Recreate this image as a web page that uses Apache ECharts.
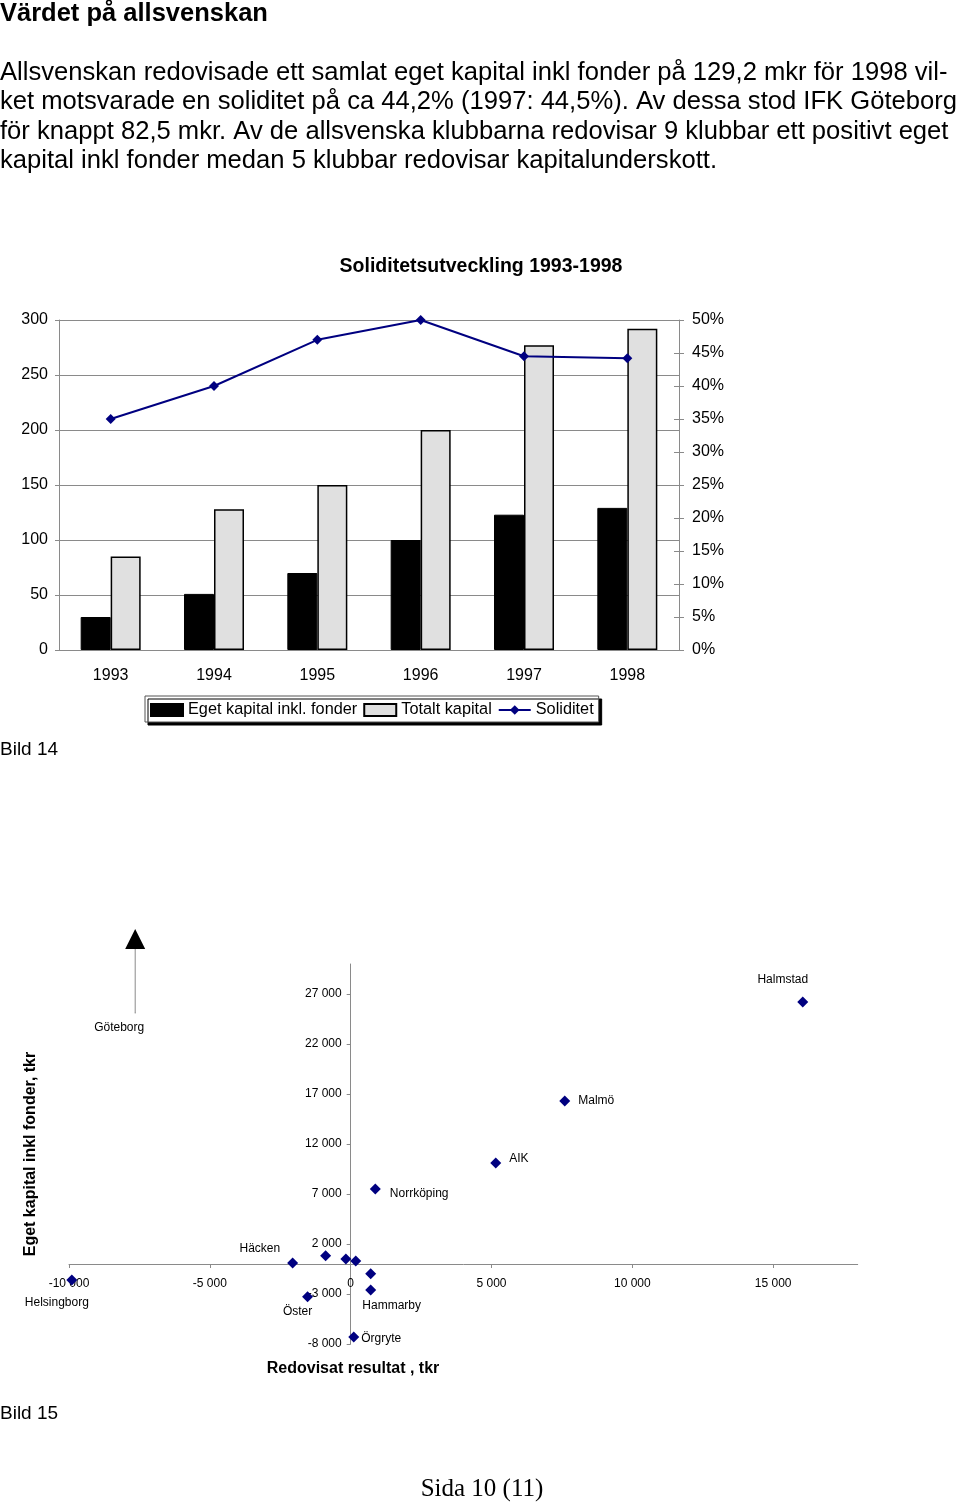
<!DOCTYPE html>
<html><head><meta charset="utf-8">
<script src="https://cdn.jsdelivr.net/npm/echarts@6/dist/echarts.min.js"></script>
<style>html,body{margin:0;padding:0;background:#fff}#c{width:960px;height:1503px}</style>
</head><body><div id="c"></div>
<script>
// ---------- Data: chart 1 (Bild 14) ----------
const years = ['1993', '1994', '1995', '1996', '1997', '1998'];
const egetKapital = [30, 51, 70, 100, 123, 129.2];
const totaltKapital = [85, 128, 150, 200, 277, 292];
const soliditet = [35, 40, 47, 50, 44.5, 44.2];

// ---------- Data: chart 2 (Bild 15) ----------
const clubs = ['Halmstad', 'Malmö', 'AIK', 'Norrköping', 'Häcken', '', '', '', '', 'Hammarby', 'Öster', 'Örgryte', 'Helsingborg'];
const resultat = [16050, 7600, 5150, 875, -2060, -890, -170, 180, 710, 710, -1530, 110, -9900];
const egetKapitalKlubb = [26200, 16300, 10100, 7500, 100, 830, 500, 300, -970, -2600, -3270, -7300, -1600];
const goteborgName = 'Göteborg';
const goteborgResultat = -7650;
const goteborgEgetKapital = 82500; // off scale, shown with an arrow

const xTicks = [-10000, -5000, 0, 5000, 10000, 15000];
const yTicks = [-8000, -3000, 2000, 7000, 12000, 17000, 22000, 27000];

// ---------- Texts ----------
const pageTitle = 'Värdet på allsvenskan';
const paragraph = [
  'Allsvenskan redovisade ett samlat eget kapital inkl fonder på 129,2 mkr för 1998 vil-',
  'ket motsvarade en soliditet på ca 44,2% (1997: 44,5%). Av dessa stod IFK Göteborg',
  'för knappt 82,5 mkr. Av de allsvenska klubbarna redovisar 9 klubbar ett positivt eget',
  'kapital inkl fonder medan 5 klubbar redovisar kapitalunderskott.'
];

// ---------- Styles / layout ----------
const FONT = '"Liberation Sans", Arial, Helvetica, sans-serif';
const NAVY = '#000080';
const AXIS = '#8a8a8a';
const X2 = { min: -10000, max: 18000 };
const Y2 = { min: -8000, max: 30000 };
const grid2 = { left: 69, top: 964, width: 788.7, height: 380 };
// place the scatter axes where the other axis is zero (crossing axes)
const xAxisOffset = -((0 - Y2.min) / (Y2.max - Y2.min)) * grid2.height;
const yAxisOffset = -((0 - X2.min) / (X2.max - X2.min)) * grid2.width;

const labelStyle = {
  'Halmstad':    { position: 'top', distance: 11, offset: [-20, 0] },
  'Malmö':       { position: 'right', distance: 8, offset: [0, 0] },
  'AIK':         { position: 'right', distance: 8, offset: [0, -4] },
  'Norrköping':  { position: 'right', distance: 9, offset: [0, 5] },
  'Häcken':      { position: 'left', distance: 7, offset: [0, -14] },
  'Hammarby':    { position: 'bottom', distance: 4, offset: [21, 0] },
  'Öster':       { position: 'bottom', distance: 3, offset: [-10, 0] },
  'Örgryte':     { position: 'right', distance: 2, offset: [0, 2] },
  'Helsingborg': { position: 'bottom', distance: 11, offset: [-15, 0] }
};
const arrowBase = 25100, arrowHead = 32500;

function fmtNum(v) {
  const s = Math.abs(v).toString().replace(/\B(?=(\d{3})+(?!\d))/g, ' ');
  return (v < 0 ? '-' : '') + s;
}

const scatterData = clubs.map((n, i) => {
  const item = { name: n, value: [resultat[i], egetKapitalKlubb[i]] };
  if (n && labelStyle[n]) {
    item.label = Object.assign({ show: true, formatter: '{b}' }, labelStyle[n]);
  }
  return item;
});

const chart = echarts.init(document.getElementById('c'), null, { renderer: 'canvas' });

const texts = [
  { x: 0, y: 14, text: pageTitle, fontSize: 25.5, fontWeight: 'bold' },
  { x: 481, y: 267, text: 'Soliditetsutveckling 1993-1998', fontSize: 19.5, fontWeight: 'bold', align: 'center' },
  { x: 0, y: 750, text: 'Bild 14', fontSize: 19 },
  { x: 0, y: 1414, text: 'Bild 15', fontSize: 19 },
  { x: 353, y: 1369, text: 'Redovisat resultat , tkr', fontSize: 16, fontWeight: 'bold', align: 'center' },
  { x: 482, y: 1489, text: 'Sida 10 (11)', fontSize: 25, family: '"Liberation Serif", "Times New Roman", serif', align: 'center' }
];
paragraph.forEach((t, i) => texts.push({ x: 0, y: 73 + i * 29.4, text: t, fontSize: 25.6 }));

const graphic = texts.map(t => ({
  type: 'text', x: t.x, y: t.y, silent: true,
  style: {
    text: t.text, fontSize: t.fontSize, fontWeight: t.fontWeight || 'normal',
    fontFamily: t.family || FONT, fill: '#000',
    align: t.align || 'left', verticalAlign: 'middle'
  }
}));
graphic.push({
  type: 'text', x: 31, y: 1154, rotation: Math.PI / 2, silent: true,
  style: {
    text: 'Eget kapital inkl fonder, tkr', fontSize: 16, fontWeight: 'bold',
    fontFamily: FONT, fill: '#000', align: 'center', verticalAlign: 'middle'
  }
});

const option = {
  animation: false,
  backgroundColor: '#fff',
  textStyle: { fontFamily: FONT, color: '#000' },
  graphic: graphic,
  grid: [
    { left: 59, top: 320, width: 620, height: 330, containLabel: false },
    Object.assign({ containLabel: false }, grid2)
  ],
  legend: {
    data: [
      { name: 'Eget kapital inkl. fonder', icon: 'rect' },
      { name: 'Totalt kapital', icon: 'rect' },
      { name: 'Soliditet' }
    ],
    left: 145, top: 696,
    padding: [6, 5, 4, 5],
    itemWidth: 32, itemHeight: 12, itemGap: 6,
    selectedMode: false,
    backgroundColor: '#fff',
    borderColor: '#555', borderWidth: 1,
    shadowColor: '#000', shadowBlur: 0, shadowOffsetX: 3, shadowOffsetY: 3,
    textStyle: { fontSize: 16.3, color: '#000', fontFamily: FONT }
  },
  xAxis: [
    {
      gridIndex: 0, type: 'category', data: years,
      axisLine: { lineStyle: { color: AXIS, width: 1 } },
      axisTick: { length: 5, lineStyle: { color: AXIS } },
      axisLabel: { fontSize: 16, color: '#000', margin: 18 },
      splitLine: { show: false }
    },
    {
      gridIndex: 1, type: 'value', min: X2.min, max: X2.max, position: 'bottom', offset: xAxisOffset,
      axisLine: { onZero: false, lineStyle: { color: AXIS } },
      axisTick: { customValues: xTicks, length: 4, lineStyle: { color: AXIS } },
      axisLabel: { customValues: xTicks, formatter: fmtNum, fontSize: 12, color: '#000', margin: 14 },
      splitLine: { show: false }
    },
    {
      gridIndex: 0, type: 'category', data: years, position: 'bottom',
      axisLine: { show: false },
      axisTick: { inside: true, length: 4, lineStyle: { color: AXIS } },
      axisLabel: { show: false },
      splitLine: { show: false }
    }
  ],
  yAxis: [
    {
      gridIndex: 0, type: 'value', min: 0, max: 300, interval: 50,
      axisLine: { show: true, lineStyle: { color: AXIS } },
      axisTick: { show: true, length: 4, lineStyle: { color: AXIS } },
      axisLabel: { fontSize: 16, color: '#000', margin: 11, padding: [3, 0, 0, 0] },
      splitLine: { show: true, lineStyle: { color: AXIS, width: 1 } }
    },
    {
      gridIndex: 0, type: 'value', min: 0, max: 50, interval: 5, position: 'right',
      axisLine: { show: true, lineStyle: { color: AXIS } },
      axisTick: { show: true, length: 5, lineStyle: { color: AXIS } },
      axisLabel: { fontSize: 16, color: '#000', margin: 13, padding: [3, 0, 0, 0], formatter: '{value}%' },
      splitLine: { show: false }
    },
    {
      gridIndex: 1, type: 'value', min: Y2.min, max: Y2.max, position: 'left', offset: yAxisOffset,
      axisLine: { show: true, onZero: false, lineStyle: { color: AXIS } },
      axisTick: { show: true, customValues: yTicks, length: 4, lineStyle: { color: AXIS } },
      axisLabel: { customValues: yTicks, formatter: fmtNum, fontSize: 12, color: '#000', margin: 9 },
      splitLine: { show: false }
    },
    {
      gridIndex: 0, type: 'value', min: 0, max: 50, interval: 5, position: 'right',
      axisLine: { show: false },
      axisTick: { show: true, inside: true, length: 5, lineStyle: { color: AXIS } },
      axisLabel: { show: false },
      splitLine: { show: false }
    }
  ],
  series: [
    {
      name: 'Eget kapital inkl. fonder', type: 'bar', xAxisIndex: 0, yAxisIndex: 0,
      data: egetKapital, barWidth: 30, barGap: '0%',
      itemStyle: { color: '#000', borderColor: '#000', borderWidth: 1 }
    },
    {
      name: 'Totalt kapital', type: 'bar', xAxisIndex: 0, yAxisIndex: 0,
      data: totaltKapital, barWidth: 30, barGap: '0%',
      itemStyle: { color: '#e0e0e0', borderColor: '#000', borderWidth: 1.5 }
    },
    {
      name: 'Soliditet', type: 'line', xAxisIndex: 0, yAxisIndex: 1,
      data: soliditet, symbol: 'diamond', symbolSize: 10,
      lineStyle: { color: NAVY, width: 2 },
      itemStyle: { color: NAVY }
    },
    {
      name: 'Klubbar', type: 'scatter', xAxisIndex: 1, yAxisIndex: 2,
      data: scatterData, symbol: 'diamond', symbolSize: 11,
      itemStyle: { color: NAVY, opacity: 1 },
      label: { fontSize: 12, color: '#000', fontFamily: FONT }
    },
    {
      name: goteborgName, type: 'line', xAxisIndex: 1, yAxisIndex: 2, clip: false,
      data: [
        { value: [goteborgResultat, arrowBase], symbol: 'circle', symbolSize: 1,
          itemStyle: { color: AXIS },
          label: { show: true, formatter: goteborgName, position: 'bottom', distance: 8, offset: [-16, 0], fontSize: 12, color: '#000' } },
        { value: [goteborgResultat, arrowHead], symbol: 'triangle', symbolSize: [20, 20],
          itemStyle: { color: '#000' } }
      ],
      showSymbol: true,
      lineStyle: { color: AXIS, width: 1 },
      itemStyle: { color: '#000' }
    }
  ]
};
chart.setOption(option);
</script>
</body></html>
